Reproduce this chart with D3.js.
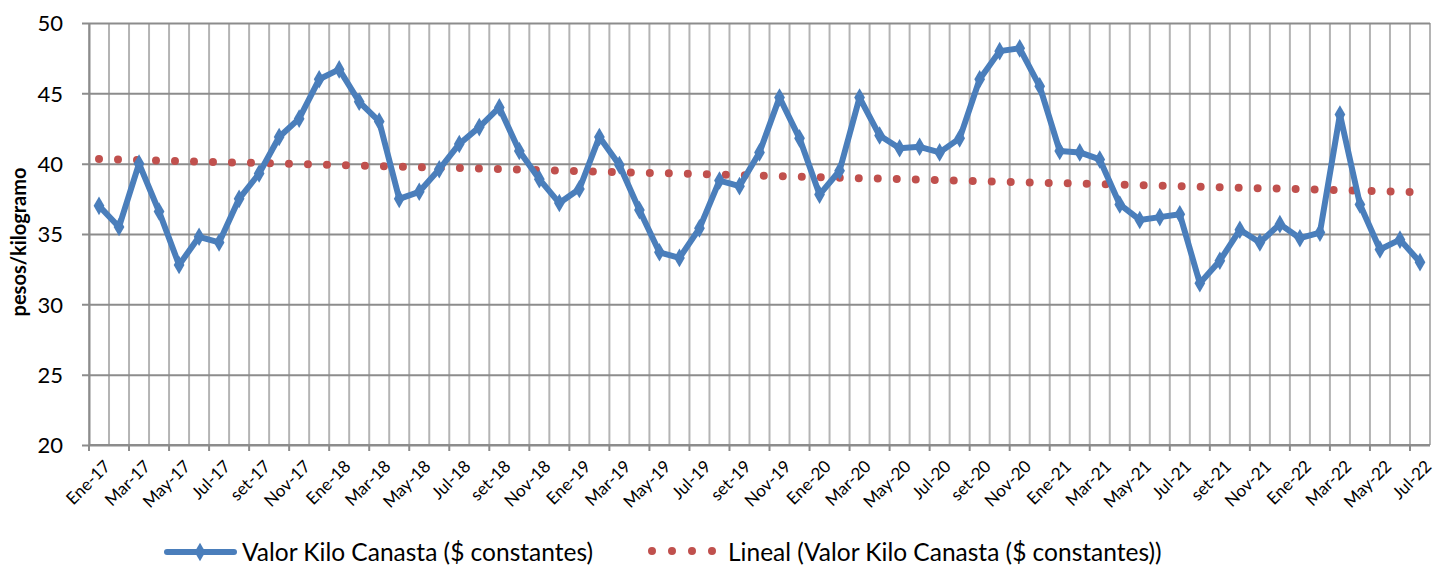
<!DOCTYPE html>
<html>
<head>
<meta charset="utf-8">
<title>Valor Kilo Canasta</title>
<script src="https://cdn.jsdelivr.net/npm/d3@7"></script>
<style>
  body { margin: 0; background: #fff; }
  svg text { font-family: Lato, "Open Sans", sans-serif; fill: #000; }
</style>
</head>
<body>
<svg id="chart" width="1440" height="565"></svg>
<script>
// month names as written on the axis, and the years covered
const monthNames = ["Ene", "Feb", "Mar", "Abr", "May", "Jun", "Jul", "Ago", "set", "Oct", "Nov", "Dic"];
const years = ["17", "18", "19", "20", "21", "22"];
const lastMonth = 7; // Jul-22

// valor kilo canasta ($ constantes), Ene-17 .. Jul-22
const values = [
  37.0, 35.5, 40.0, 36.6, 32.8, 34.8, 34.4, 37.5, 39.3, 41.9, 43.2, 46.0,
  46.7, 44.4, 43.0, 37.5, 38.0, 39.6, 41.4, 42.6, 44.0, 40.9, 38.9, 37.2,
  38.2, 41.9, 39.9, 36.7, 33.7, 33.3, 35.4, 38.8, 38.4, 40.8, 44.7, 41.8,
  37.8, 39.5, 44.7, 42.0, 41.1, 41.2, 40.8, 41.8, 46.0, 48.0, 48.2, 45.5,
  40.9, 40.8, 40.3, 37.1, 36.0, 36.2, 36.4, 31.5, 33.1, 35.3, 34.4, 35.7,
  34.7, 35.1, 43.5, 37.1, 33.9, 34.6, 33.0
];

const yTicks = [20, 25, 30, 35, 40, 45, 50];

const seriesName = "Valor Kilo Canasta ($ constantes)";
const trendName = "Lineal (Valor Kilo Canasta ($ constantes))";

const categories = [];
years.forEach(function (y, yi) {
  monthNames.forEach(function (m, mi) {
    if (yi < years.length - 1 || mi < lastMonth) categories.push(m + "-" + y);
  });
});

const blue = "#4A7EBB";
const red = "#C0504D";

const margin = { left: 89, right: 10, top: 23, bottom: 120 };
const width = 1440, height = 565;

const svg = d3.select("#chart");

const x = d3.scaleBand()
  .domain(categories)
  .range([margin.left, width - margin.right])
  .padding(0);

const y = d3.scaleLinear()
  .domain([20, 50])
  .range([height - margin.bottom, margin.top]);

const cx = function (d, i) { return x(categories[i]) + x.bandwidth() / 2; };

// vertical gridlines at category boundaries
const bounds = categories.map(function (c) { return x(c); }).concat([x.range()[1]]);
svg.append("g")
  .selectAll("line")
  .data(bounds)
  .enter()
  .append("line")
  .attr("x1", function (d) { return d; })
  .attr("x2", function (d) { return d; })
  .attr("y1", y(50))
  .attr("y2", y(20))
  .attr("stroke", "#B4B4B4")
  .attr("stroke-width", 2);

// horizontal gridlines + y labels
const yAxis = d3.axisLeft(y)
  .tickValues(yTicks)
  .tickSize(-(x.range()[1] - x.range()[0]))
  .tickSizeOuter(0)
  .tickPadding(26);

const gy = svg.append("g")
  .attr("transform", "translate(" + margin.left + ",0)")
  .call(yAxis);
gy.select(".domain").attr("stroke", "#8C8C8C").attr("stroke-width", 2);
gy.selectAll(".tick line").attr("stroke", "#8C8C8C").attr("stroke-width", 2).attr("x1", -7);
gy.selectAll(".tick text").style("font-size", "22px").attr("dy", "0.36em");

// x ticks every two months, at boundaries
const tickCats = categories.filter(function (c, i) { return i % 2 === 0; });
svg.append("g")
  .selectAll("line")
  .data(tickCats)
  .enter()
  .append("line")
  .attr("x1", function (d) { return x(d); })
  .attr("x2", function (d) { return x(d); })
  .attr("y1", y(20))
  .attr("y2", y(20) + 6)
  .attr("stroke", "#8C8C8C")
  .attr("stroke-width", 2);

svg.append("line")
  .attr("x1", margin.left)
  .attr("x2", x.range()[1])
  .attr("y1", y(20))
  .attr("y2", y(20))
  .attr("stroke", "#8C8C8C")
  .attr("stroke-width", 2);

svg.append("g")
  .selectAll("text")
  .data(tickCats)
  .enter()
  .append("text")
  .attr("transform", function (d) {
    return "translate(" + (x(d) + x.bandwidth() / 2 + 4) + "," + (y(20) + 14) + ") rotate(-45)";
  })
  .attr("text-anchor", "end")
  .attr("dy", "0.7em")
  .style("font-size", "17px")
  .text(function (d) { return d; });

// y axis title
svg.append("text")
  .attr("transform", "translate(26," + ((y(50) + y(20)) / 2 + 8) + ") rotate(-90)")
  .attr("text-anchor", "middle")
  .style("font-size", "20px")
  .style("font-weight", "bold")
  .text("pesos/kilogramo");

// linear trend (least squares on the series)
const mx = d3.mean(values, function (d, i) { return i; });
const my = d3.mean(values);
const slope = d3.sum(values, function (d, i) { return (i - mx) * (d - my); }) /
  d3.sum(values, function (d, i) { return (i - mx) * (i - mx); });
const trend = values.map(function (d, i) { return my + slope * (i - mx); });

svg.append("path")
  .datum(trend)
  .attr("fill", "none")
  .attr("stroke", red)
  .attr("stroke-width", 8)
  .attr("stroke-linecap", "round")
  .attr("stroke-dasharray", "0 19")
  .attr("d", d3.line().x(cx).y(function (d) { return y(d); }));

// series line
svg.append("path")
  .datum(values)
  .attr("fill", "none")
  .attr("stroke", blue)
  .attr("stroke-width", 6)
  .attr("stroke-linejoin", "round")
  .attr("d", d3.line().x(cx).y(function (d) { return y(d); }));

svg.append("g")
  .selectAll("path")
  .data(values)
  .enter()
  .append("path")
  .attr("d", d3.symbol().type(d3.symbolDiamond).size(100))
  .attr("transform", function (d, i) { return "translate(" + cx(d, i) + "," + y(d) + ")"; })
  .attr("fill", blue);

// legend
const leg = svg.append("g");
leg.append("line")
  .attr("x1", 167).attr("x2", 234).attr("y1", 552).attr("y2", 552)
  .attr("stroke", blue).attr("stroke-width", 6).attr("stroke-linecap", "round");
leg.append("path")
  .attr("d", d3.symbol().type(d3.symbolDiamond).size(100))
  .attr("transform", "translate(200,552)")
  .attr("fill", blue);
leg.append("text")
  .attr("x", 242).attr("y", 552).attr("dy", "0.35em")
  .style("font-size", "24.5px")
  .text(seriesName);

leg.append("line")
  .attr("x1", 652).attr("x2", 713).attr("y1", 551).attr("y2", 551)
  .attr("stroke", red).attr("stroke-width", 8)
  .attr("stroke-linecap", "round").attr("stroke-dasharray", "0 20");
leg.append("text")
  .attr("x", 728).attr("y", 552).attr("dy", "0.35em")
  .style("font-size", "24.5px")
  .text(trendName);
</script>
</body>
</html>
